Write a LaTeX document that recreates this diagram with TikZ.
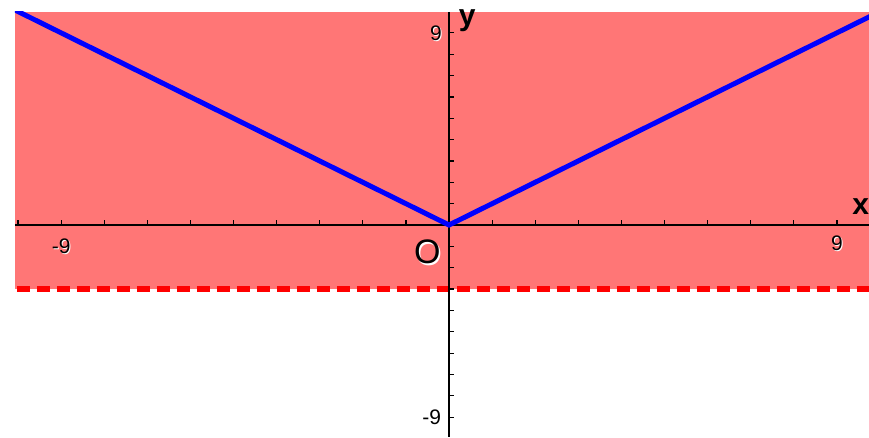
\documentclass[tikz,border=0pt]{standalone}
\usepackage{fontspec}
\setmainfont{Liberation Sans}
\definecolor{fillred}{RGB}{255,118,118}
\definecolor{dashred}{RGB}{255,0,0}
\definecolor{lineblue}{RGB}{0,0,255}
\tikzset{
  axisline/.style={line width=1.6pt, black},
  tickline/.style={line width=1.2pt, black},
  numlabel/.style={font=\fontsize{21}{21}\selectfont, inner sep=0pt},
  biglabel/.style={font=\fontsize{34}{34}\selectfont, inner sep=0pt},
  axislabel/.style={font=\fontsize{30}{30}\selectfont\bfseries, inner sep=0pt},
}
\begin{document}
\begin{tikzpicture}
\useasboundingbox (0pt,0pt) rectangle (869pt,-437pt);
\fill[white] (0pt,0pt) rectangle (869pt,-437pt);
\begin{scope}[shift={(449pt,-225pt)}, x=43.1pt, y=21.35pt]
  % shaded region y > -3
  \fill[fillred] (-10.07,-3) rectangle (9.75,9.98);
  % dashed boundary
  \draw[dashred, line width=5.5pt, dash pattern=on 13pt off 7pt, dash phase=-2pt] (-10.07,-3) -- (9.75,-3);
  % x-axis
  \draw[axisline] (-10.07,0) -- (9.75,0);
  \foreach \k in {-10,...,9} \draw[tickline] (\k,0) -- ++(0,5pt);
  % y-axis
  \draw[axisline] (0,9.98) -- (0,-9.95);
  \foreach \k in {-9,...,9} \draw[tickline] (0,\k) -- ++(5pt,0);
  % V graph
  \begin{scope}
    \clip (-10.07,-3) rectangle (9.75,9.98);
    \draw[lineblue, line width=5pt, line join=miter] (-10.3,10.3) -- (0,0) -- (10,10);
  \end{scope}
  % labels
  \node[numlabel, white] at ([shift={(1pt,-1pt)}]-9,-1) {-9};
  \node[numlabel] (xm9) at (-9,-1) {-9};
  \node[numlabel, white] at ([shift={(1pt,-1pt)}]9,-0.85) {9};
  \node[numlabel] (xp9) at (9,-0.85) {9};
  \node[numlabel, white] at ([shift={(1pt,-1pt)}]-0.3,9) {9};
  \node[numlabel] (yp9) at (-0.3,9) {9};
  \node[numlabel, white] at ([shift={(1pt,-1pt)}]-0.4,-9) {-9};
  \node[numlabel] (ym9) at (-0.4,-9) {-9};
  \node[biglabel, white] at ([shift={(1.5pt,-1.5pt)}]-0.5,-1.27) {O};
  \node[biglabel] (orig) at (-0.5,-1.27) {O};
  \node[axislabel] (ylab) at (0.42,9.55) {y};
  \node[axislabel] (xlab) at (9.55,0.85) {x};
\end{scope}
\end{tikzpicture}
\end{document}
